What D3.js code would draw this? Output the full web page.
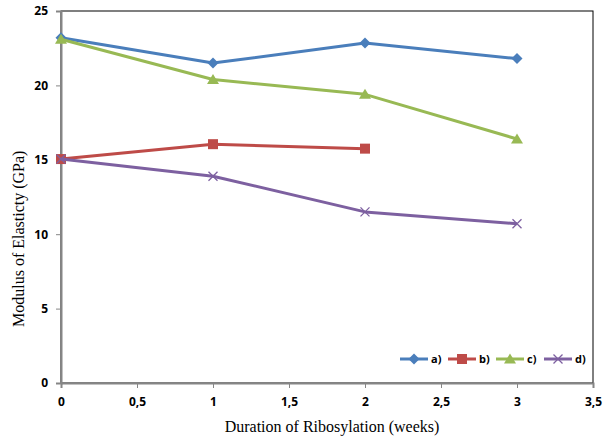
<!DOCTYPE html>
<html>
<head>
<meta charset="utf-8">
<script src="https://cdn.jsdelivr.net/npm/d3@7"></script>
<style>
  body { margin: 0; background: #fff; }
</style>
</head>
<body>
<div id="chart"></div>
<script>
// weeks of ribosylation
const weeks = [0, 1, 2, 3];
const seriesNames = ["a)", "b)", "c)", "d)"];
const seriesA = [23.2, 21.5, 22.85, 21.8];
const seriesB = [15.05, 16.05, 15.75];
const seriesC = [23.1, 20.4, 19.4, 16.4];
const seriesD = [15.05, 13.9, 11.5, 10.7];
const xTicks = [0, 0.5, 1, 1.5, 2, 2.5, 3, 3.5];
const yTicks = [0, 5, 10, 15, 20, 25];

const colors = ["#4A7EBB", "#BE4B48", "#98B954", "#7D60A0"];
const symbols = ["diamond", "square", "triangle", "cross"];

const width = 603, height = 441;
const margin = {top: 11, right: 10, bottom: 58, left: 61};
const w = 593 - margin.left, h = 383 - margin.top;

const x = d3.scaleLinear().domain([0, 3.5]).range([0, w]);
const y = d3.scaleLinear().domain([0, 25]).range([h, 0]);

const svg = d3.select("#chart").append("svg")
    .attr("width", width)
    .attr("height", height);

const g = svg.append("g")
    .attr("transform", "translate(" + margin.left + "," + margin.top + ")");

// plot area border (top + right black)
g.append("rect")
    .attr("x", 0).attr("y", 0)
    .attr("width", w).attr("height", h)
    .attr("fill", "none")
    .attr("stroke", "#000")
    .attr("stroke-width", 1);

const tickFont = "'Open Sans', 'Liberation Sans', sans-serif";

// y axis
const yAxis = g.append("g")
    .call(d3.axisLeft(y).tickValues(yTicks).tickSize(5).tickPadding(8).tickFormat(d3.format("d")));
yAxis.select(".domain").attr("stroke", "#868686").attr("stroke-width", 2);
yAxis.selectAll(".tick line").attr("stroke", "#868686");
yAxis.selectAll("text")
    .attr("font-family", tickFont)
    .attr("font-weight", "bold")
    .attr("font-size", 12)
    .attr("fill", "#000");

// x axis
const xAxis = g.append("g")
    .attr("transform", "translate(0," + h + ")")
    .call(d3.axisBottom(x).tickValues(xTicks).tickSize(5).tickPadding(9)
        .tickFormat(d => String(d).replace(".", ",")));
xAxis.select(".domain").attr("stroke", "#868686").attr("stroke-width", 2);
xAxis.selectAll(".tick line").attr("stroke", "#868686");
xAxis.selectAll("text")
    .attr("font-family", tickFont)
    .attr("font-weight", "bold")
    .attr("font-size", 12)
    .attr("fill", "#000");

// axis titles
svg.append("text")
    .attr("x", 332).attr("y", 432)
    .attr("text-anchor", "middle")
    .attr("font-family", "'Liberation Serif', serif")
    .attr("font-size", 16)
    .text("Duration of Ribosylation (weeks)");

svg.append("text")
    .attr("transform", "translate(24,327) rotate(-90)")
    .attr("text-anchor", "start")
    .attr("font-family", "'Liberation Serif', serif")
    .attr("font-size", 16)
    .text("Modulus of Elasticty (GPa)");

function marker(sel, type, color) {
    if (type === "diamond") {
        sel.append("path").attr("d", "M0,-5.5L5.5,0L0,5.5L-5.5,0Z").attr("fill", color);
    } else if (type === "square") {
        sel.append("rect").attr("x", -5).attr("y", -5).attr("width", 10).attr("height", 10).attr("fill", color);
    } else if (type === "triangle") {
        sel.append("path").attr("d", "M0,-5.5L6,4.5L-6,4.5Z").attr("fill", color);
    } else {
        sel.append("path").attr("d", "M-4.5,-4.5L4.5,4.5M-4.5,4.5L4.5,-4.5")
            .attr("stroke", color).attr("stroke-width", 1.3).attr("fill", "none");
    }
}

const allSeries = [seriesA, seriesB, seriesC, seriesD];
const line = d3.line().x((d, i) => x(weeks[i])).y(d => y(d));

allSeries.forEach((vals, k) => {
    g.append("path")
        .datum(vals)
        .attr("fill", "none")
        .attr("stroke", colors[k])
        .attr("stroke-width", 3)
        .attr("stroke-linejoin", "round")
        .attr("d", line);
    vals.forEach((v, i) => {
        const m = g.append("g").attr("transform", "translate(" + x(weeks[i]) + "," + y(v) + ")");
        marker(m, symbols[k], colors[k]);
    });
});

// legend
const legend = svg.append("g").attr("transform", "translate(400,359)");
seriesNames.forEach((name, k) => {
    const item = legend.append("g").attr("transform", "translate(" + (k * 48) + ",0)");
    item.append("line")
        .attr("x1", 0).attr("x2", 28)
        .attr("stroke", colors[k]).attr("stroke-width", 3);
    const m = item.append("g").attr("transform", "translate(14,0)");
    marker(m, symbols[k], colors[k]);
    item.append("text")
        .attr("x", 31).attr("y", 4)
        .attr("font-family", tickFont)
        .attr("font-weight", "bold")
        .attr("font-size", 11)
        .text(name);
});
</script>
</body>
</html>
